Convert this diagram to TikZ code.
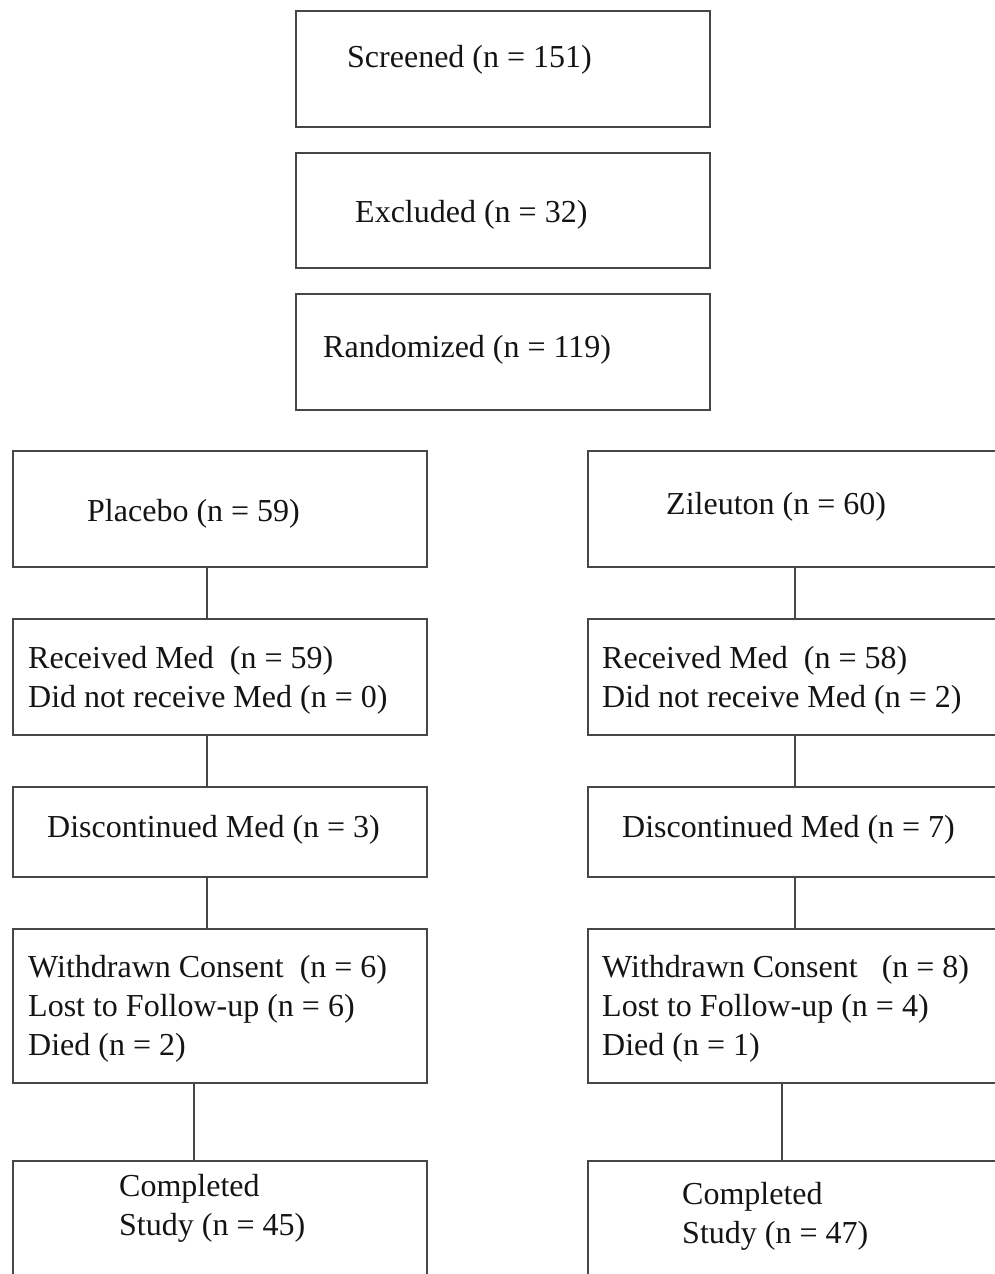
\documentclass[tikz,border=0pt]{standalone}
\usepackage{fontspec}
\setmainfont{Liberation Serif}
\begin{document}
\begin{tikzpicture}[x=1pt,y=-1pt,
  box/.style={draw=black!72,line width=2pt,rectangle,inner sep=0pt,anchor=north west,minimum width=414pt},
  txt/.style={anchor=base west,inner sep=0pt,align=left,text=black!92,font=\fontsize{32}{39}\selectfont},
  conn/.style={draw=black!72,line width=1.6pt}]
\useasboundingbox (0,0) rectangle (995,1274);
\clip (0,0) rectangle (995,1274);
% top boxes
\node[box,minimum height=116pt] (scr) at (295,10) {};
\node[box,minimum height=115pt] (exc) at (295,152) {};
\node[box,minimum height=116pt] (ran) at (295,293) {};
\node[txt] (tscr) at (347,67) {Screened (n = 151)};
\node[txt] (texc) at (355,222) {Excluded (n = 32)};
\node[txt] (tran) at (323,357) {Randomized (n = 119)};
% left column
\node[box,minimum height=116pt] (plac) at (12,450) {};
\node[box,minimum height=116pt] (lrec) at (12,618) {};
\node[box,minimum height=90pt] (ldis) at (12,786) {};
\node[box,minimum height=154pt] (lwit) at (12,928) {};
\node[box,minimum height=140pt] (lcom) at (12,1160) {};
\node[txt] (tplac) at (87,521) {Placebo (n = 59)};
\node[txt] (tlrec) at (28,707) {Received Med\ \ (n = 59)\\Did not receive Med (n = 0)};
\node[txt] (tldis) at (47,837) {Discontinued Med (n = 3)};
\node[txt] (tlwit) at (28,1055) {Withdrawn Consent\ \ (n = 6)\\Lost to Follow-up (n = 6)\\Died (n = 2)};
\node[txt] (tlcom) at (119,1235) {Completed\\Study (n = 45)};
% right column
\node[box,minimum height=116pt] (zil) at (587,450) {};
\node[box,minimum height=116pt] (rrec) at (587,618) {};
\node[box,minimum height=90pt] (rdis) at (587,786) {};
\node[box,minimum height=154pt] (rwit) at (587,928) {};
\node[box,minimum height=140pt] (rcom) at (587,1160) {};
\node[txt] (tzil) at (666,514) {Zileuton (n = 60)};
\node[txt] (trrec) at (602,707) {Received Med\ \ (n = 58)\\Did not receive Med (n = 2)};
\node[txt] (trdis) at (622,837) {Discontinued Med (n = 7)};
\node[txt] (trwit) at (602,1055) {Withdrawn Consent\ \ \ (n = 8)\\Lost to Follow-up (n = 4)\\Died (n = 1)};
\node[txt] (trcom) at (682,1243) {Completed\\Study (n = 47)};
% connectors
\draw[conn] ([xshift=-13pt]plac.south) -- ([xshift=-13pt]lrec.north);
\draw[conn] ([xshift=-13pt]lrec.south) -- ([xshift=-13pt]ldis.north);
\draw[conn] ([xshift=-13pt]ldis.south) -- ([xshift=-13pt]lwit.north);
\draw[conn] ([xshift=-26pt]lwit.south) -- ([xshift=-26pt]lcom.north);
\draw[conn] (zil.south) -- (rrec.north);
\draw[conn] (rrec.south) -- (rdis.north);
\draw[conn] (rdis.south) -- (rwit.north);
\draw[conn] ([xshift=-13pt]rwit.south) -- ([xshift=-13pt]rcom.north);
\end{tikzpicture}
\end{document}
